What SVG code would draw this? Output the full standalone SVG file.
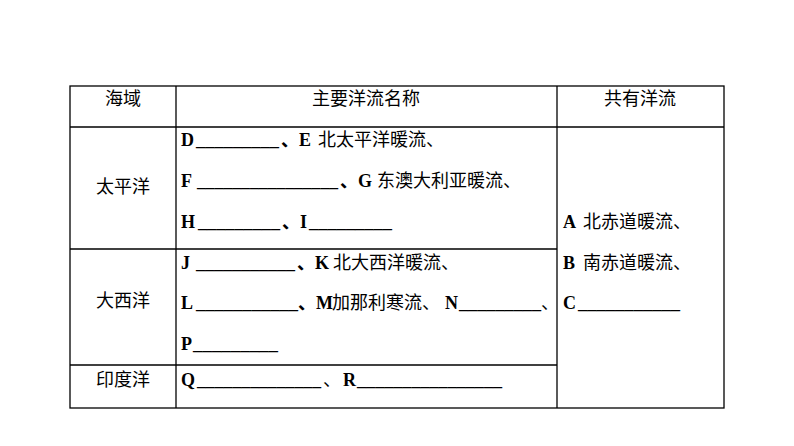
<svg xmlns="http://www.w3.org/2000/svg" width="794" height="446" viewBox="0 0 794 446">
<style>
text{font-family:"Liberation Serif","Noto Sans CJK SC",serif;font-size:18px;fill:#000}
.b{font-weight:bold}
.c{text-anchor:middle}
.g line,.g rect{stroke:#000;stroke-width:1.3;fill:none}
</style>
<rect width="794" height="446" fill="#fff"/>
<g class="g" id="grid">
<rect x="70" y="86" width="654" height="322"/>
<line x1="176" y1="86" x2="176" y2="408"/>
<line x1="557" y1="86" x2="557" y2="408"/>
<line x1="70" y1="127" x2="724" y2="127"/>
<line x1="70" y1="249" x2="557" y2="249"/>
<line x1="70" y1="365" x2="557" y2="365"/>
</g>
<g id="header">
<text class="c" x="123" y="105">海域</text>
<text class="c" x="366" y="105">主要洋流名称</text>
<text class="c" x="640" y="105">共有洋流</text>
</g>
<g id="col1">
<text class="c" x="123" y="193">太平洋</text>
<text class="c" x="123" y="307">大西洋</text>
<text class="c" x="123" y="386">印度洋</text>
</g>
<g id="col2" class="b">
<text x="181" y="146">D</text><text x="196" y="146" textLength="83" lengthAdjust="spacingAndGlyphs">_________</text><text x="281" y="146">、E</text><text x="318" y="146" style="font-weight:normal">北太平洋暖流、</text>
<text x="181" y="187">F</text><text x="197" y="187" textLength="141" lengthAdjust="spacingAndGlyphs">________________</text><text x="340" y="187">、G</text><text x="377" y="187" style="font-weight:normal">东澳大利亚暖流、</text>
<text x="181" y="228">H</text><text x="198" y="228" textLength="82" lengthAdjust="spacingAndGlyphs">_________</text><text x="282" y="228">、I</text><text x="309" y="228" textLength="83" lengthAdjust="spacingAndGlyphs">_________</text>
<text x="181" y="269">J</text><text x="196" y="269" textLength="99" lengthAdjust="spacingAndGlyphs">___________</text><text x="297" y="269">、K</text><text x="333" y="269" style="font-weight:normal">北大西洋暖流、</text>
<text x="181" y="309">L</text><text x="196" y="309" textLength="102" lengthAdjust="spacingAndGlyphs">___________</text><text x="298" y="309">、M</text><text x="332" y="309" style="font-weight:normal">加那利寒流、</text><text x="445" y="309">N</text><text x="459" y="309" textLength="82" lengthAdjust="spacingAndGlyphs">_________</text><text x="541" y="309" style="font-weight:normal">、</text>
<text x="181" y="350">P</text><text x="193" y="350" textLength="85" lengthAdjust="spacingAndGlyphs">_________</text>
<text x="181" y="386">Q</text><text x="197" y="386" textLength="124" lengthAdjust="spacingAndGlyphs">______________</text><text x="323" y="386" style="font-weight:normal">、</text><text x="343" y="386">R</text><text x="357" y="386" textLength="145" lengthAdjust="spacingAndGlyphs">________________</text>
</g>
<g id="col3" class="b">
<text x="563" y="228">A</text><text x="583" y="228" style="font-weight:normal">北赤道暖流、</text>
<text x="563" y="269">B</text><text x="583" y="269" style="font-weight:normal">南赤道暖流、</text>
<text x="563" y="309">C</text><text x="578" y="309" textLength="102" lengthAdjust="spacingAndGlyphs">___________</text>
</g>
</svg>
